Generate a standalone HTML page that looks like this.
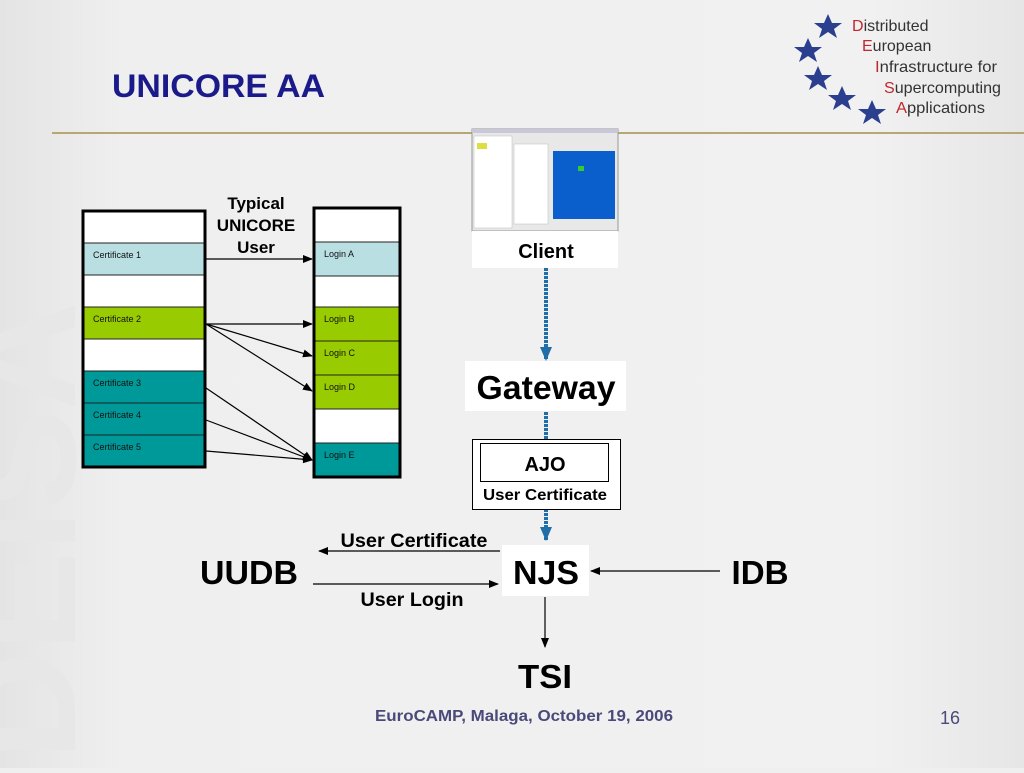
<!DOCTYPE html>
<html><head><meta charset="utf-8"><style>
html,body{margin:0;padding:0}
body{width:1024px;height:768px;overflow:hidden;background:#efefef;font-family:"Liberation Sans",Arial,sans-serif}
</style></head><body>
<svg width="1024" height="768" viewBox="0 0 1024 768" xmlns="http://www.w3.org/2000/svg" font-family="Liberation Sans, Arial, sans-serif">
<defs>
<linearGradient id="bg" x1="0" x2="1" y1="0" y2="0">
<stop offset="0" stop-color="#e4e4e4"/><stop offset="0.12" stop-color="#efefef"/><stop offset="0.85" stop-color="#f1f1f1"/><stop offset="1" stop-color="#e6e6e6"/>
</linearGradient>
<marker id="ah" markerWidth="10" markerHeight="8" refX="9" refY="4" orient="auto" markerUnits="userSpaceOnUse"><path d="M0,0 L10,4 L0,8 Z" fill="#000"/></marker>
<marker id="bh" markerWidth="14" markerHeight="12" refX="13" refY="6" orient="auto" markerUnits="userSpaceOnUse"><path d="M0,0 L14,6 L0,12 Z" fill="#1f6ea8"/></marker>
</defs>
<rect width="1024" height="768" fill="url(#bg)"/>
<text transform="translate(75,760) rotate(-90)" font-size="150" font-weight="bold" fill="#e7e7e7">DEISA</text>
<text x="112" y="97" font-size="32" font-weight="bold" fill="#1a1a8a" textLength="213" lengthAdjust="spacingAndGlyphs">UNICORE AA</text>
<line x1="52" y1="133" x2="1024" y2="133" stroke="#b8a870" stroke-width="2"/>
<g fill="#2b3f8f">
<polygon points="828,14 832,23 842,23 834,29 837,38 828,32 819,38 822,29 814,23 824,23"/>
<polygon points="808,38 812,47 822,47 814,53 817,62 808,56 799,62 802,53 794,47 804,47"/>
<polygon points="818,66 822,75 832,75 824,81 827,90 818,84 809,90 812,81 804,75 814,75"/>
<polygon points="842,86 846,95 856,95 848,101 851,110 842,104 833,110 836,101 828,95 838,95"/>
<polygon points="872,100 876,109 886,109 878,115 881,124 872,118 863,124 866,115 858,109 868,109"/>
</g>
<g font-size="16" fill="#333">
<text x="852" y="31"><tspan fill="#c0282d">D</tspan>istributed</text>
<text x="862" y="51"><tspan fill="#c0282d">E</tspan>uropean</text>
<text x="875" y="72" textLength="122" lengthAdjust="spacingAndGlyphs"><tspan fill="#c0282d">I</tspan>nfrastructure for</text>
<text x="884" y="93" textLength="117" lengthAdjust="spacingAndGlyphs"><tspan fill="#c0282d">S</tspan>upercomputing</text>
<text x="896" y="113" textLength="89" lengthAdjust="spacingAndGlyphs"><tspan fill="#c0282d">A</tspan>pplications</text>
</g>
<g stroke="#222" stroke-width="1">
<rect x="83" y="211" width="122" height="32" fill="#fff"/>
<rect x="83" y="243" width="122" height="32" fill="#b9dfe3"/>
<rect x="83" y="275" width="122" height="32" fill="#fff"/>
<rect x="83" y="307" width="122" height="32" fill="#99cc00"/>
<rect x="83" y="339" width="122" height="32" fill="#fff"/>
<rect x="83" y="371" width="122" height="32" fill="#009999"/>
<rect x="83" y="403" width="122" height="32" fill="#009999"/>
<rect x="83" y="435" width="122" height="32" fill="#009999"/>
</g>
<rect x="83" y="211" width="122" height="256" fill="none" stroke="#000" stroke-width="3"/>
<g font-size="9" fill="#111">
<text x="93" y="258">Certificate 1</text>
<text x="93" y="322">Certificate 2</text>
<text x="93" y="386">Certificate 3</text>
<text x="93" y="418">Certificate 4</text>
<text x="93" y="450">Certificate 5</text>
</g>
<g stroke="#222" stroke-width="1">
<rect x="314" y="208" width="86" height="34" fill="#fff"/>
<rect x="314" y="242" width="86" height="34" fill="#b9dfe3"/>
<rect x="314" y="276" width="86" height="31" fill="#fff"/>
<rect x="314" y="307" width="86" height="34" fill="#99cc00"/>
<rect x="314" y="341" width="86" height="34" fill="#99cc00"/>
<rect x="314" y="375" width="86" height="34" fill="#99cc00"/>
<rect x="314" y="409" width="86" height="34" fill="#fff"/>
<rect x="314" y="443" width="86" height="34" fill="#009999"/>
</g>
<rect x="314" y="208" width="86" height="269" fill="none" stroke="#000" stroke-width="3"/>
<g font-size="9" fill="#111">
<text x="324" y="257">Login A</text>
<text x="324" y="322">Login B</text>
<text x="324" y="356">Login C</text>
<text x="324" y="390">Login D</text>
<text x="324" y="458">Login E</text>
</g>
<g font-size="17" font-weight="bold" text-anchor="middle" fill="#000">
<text x="256" y="209">Typical</text>
<text x="256" y="231">UNICORE</text>
<text x="256" y="253">User</text>
</g>
<g stroke="#000" stroke-width="1.2" marker-end="url(#ah)">
<line x1="206" y1="259" x2="312" y2="259"/>
<line x1="206" y1="324" x2="312" y2="324"/>
<line x1="206" y1="324" x2="312" y2="356"/>
<line x1="206" y1="324" x2="312" y2="391"/>
<line x1="206" y1="388" x2="312" y2="460"/>
<line x1="206" y1="420" x2="312" y2="460"/>
<line x1="206" y1="451" x2="312" y2="460"/>
</g>
<rect x="472" y="129" width="146" height="102" fill="#e8e8e8" stroke="#999"/>
<rect x="472" y="129" width="146" height="4" fill="#c8c8d8"/>
<rect x="474" y="136" width="38" height="92" fill="#fff" stroke="#bbb" stroke-width="0.5"/>
<rect x="514" y="144" width="34" height="80" fill="#fff" stroke="#bbb" stroke-width="0.5"/>
<rect x="553" y="151" width="62" height="68" fill="#0a5fcc"/>
<rect x="578" y="166" width="6" height="5" fill="#3c3"/>
<rect x="477" y="143" width="10" height="6" fill="#dd4"/>
<rect x="472" y="231" width="146" height="37" fill="#fff"/>
<text x="546" y="258" font-size="20" font-weight="bold" text-anchor="middle">Client</text>
<g stroke="#1f6ea8" stroke-width="4" stroke-dasharray="3,1">
<line x1="546" y1="268" x2="546" y2="360" marker-end="url(#bh)"/>
<line x1="546" y1="412" x2="546" y2="439"/>
<line x1="546" y1="509" x2="546" y2="540" marker-end="url(#bh)"/>
</g>
<rect x="465" y="361" width="161" height="50" fill="#fff"/>
<text x="546" y="399" font-size="33" font-weight="bold" text-anchor="middle" textLength="139" lengthAdjust="spacingAndGlyphs">Gateway</text>
<rect x="472.5" y="439.5" width="148" height="70" fill="#fff" stroke="#000"/>
<rect x="480.5" y="443.5" width="128" height="38" fill="#fff" stroke="#000"/>
<text x="545" y="471" font-size="20" font-weight="bold" text-anchor="middle">AJO</text>
<text x="545" y="500" font-size="16" font-weight="bold" text-anchor="middle" textLength="124" lengthAdjust="spacingAndGlyphs">User Certificate</text>
<rect x="502" y="545" width="87" height="51" fill="#fff"/>
<text x="546" y="584" font-size="33" font-weight="bold" text-anchor="middle" textLength="66" lengthAdjust="spacingAndGlyphs">NJS</text>
<text x="249" y="584" font-size="33" font-weight="bold" text-anchor="middle" textLength="98" lengthAdjust="spacingAndGlyphs">UUDB</text>
<text x="760" y="584" font-size="33" font-weight="bold" text-anchor="middle" textLength="57" lengthAdjust="spacingAndGlyphs">IDB</text>
<text x="545" y="688" font-size="33" font-weight="bold" text-anchor="middle" textLength="54" lengthAdjust="spacingAndGlyphs">TSI</text>
<text x="414" y="547" font-size="19" font-weight="bold" text-anchor="middle" textLength="147" lengthAdjust="spacingAndGlyphs">User Certificate</text>
<text x="412" y="606" font-size="19" font-weight="bold" text-anchor="middle" textLength="103" lengthAdjust="spacingAndGlyphs">User Login</text>
<g stroke="#000" stroke-width="1.2" marker-end="url(#ah)">
<line x1="500" y1="551" x2="319" y2="551"/>
<line x1="313" y1="584" x2="498" y2="584"/>
<line x1="720" y1="571" x2="591" y2="571"/>
<line x1="545" y1="597" x2="545" y2="647"/>
</g>
<text x="524" y="721" font-size="16" font-weight="bold" text-anchor="middle" fill="#4a4a7a" textLength="298" lengthAdjust="spacingAndGlyphs">EuroCAMP, Malaga, October 19, 2006</text>
<text x="950" y="724" font-size="18" text-anchor="middle" fill="#4a4a7a">16</text>
</svg>
</body></html>
